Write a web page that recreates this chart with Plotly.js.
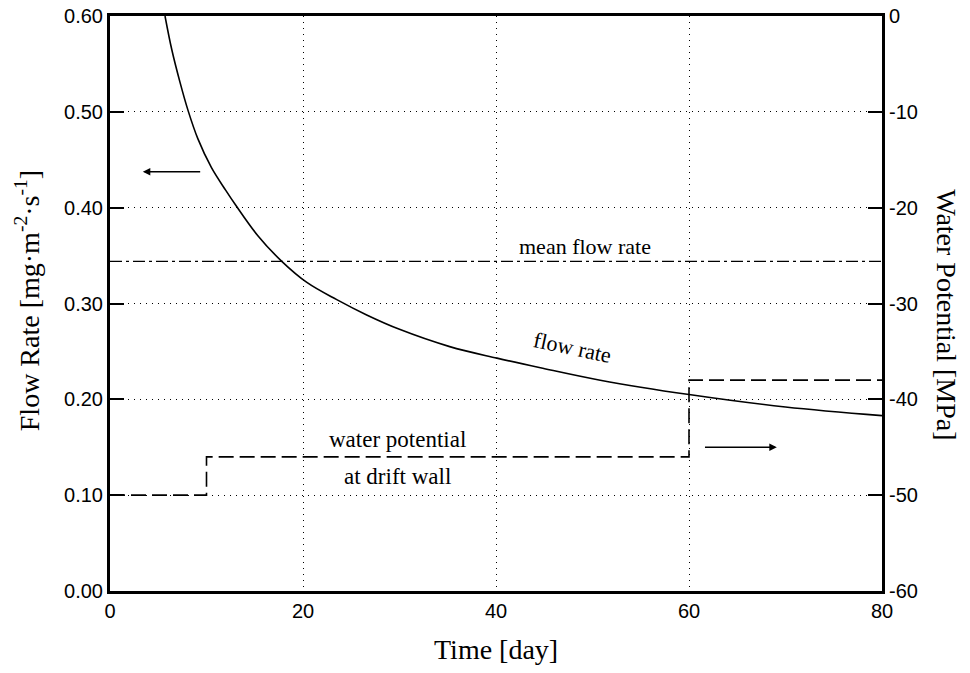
<!DOCTYPE html>
<html>
<head>
<meta charset="utf-8">
<script src="https://cdn.plot.ly/plotly-3.0.1.min.js"></script>
<style>html,body{margin:0;padding:0;background:#fff;}#chart{width:970px;height:673px;}</style>
</head>
<body>
<div id="chart"></div>
<script>
// Flow rate curve (day, mg·m^-2·s^-1)
const flowDays = [5.7, 6.4, 7.25, 8.1, 9.1, 10.5, 12.0, 13.0, 15.3, 17.8, 20.4, 23.5, 26.6, 30.0, 35.2, 40.1, 44.6, 50.8, 60, 70, 80];
const flowRate = [0.600, 0.565, 0.531, 0.501, 0.472, 0.442, 0.418, 0.403, 0.371, 0.344, 0.322, 0.304, 0.288, 0.273, 0.255, 0.243, 0.233, 0.220, 0.205, 0.192, 0.183];
// Mean flow rate
const meanDays = [0, 80];
const meanFlow = [0.344, 0.344];
// Water potential at drift wall (MPa), step function
const wpDays = [0, 10, 60, 80];
const wpValues = [-50, -46, -38, -38];
// Tick values
const flowTicks = [0, 0.1, 0.2, 0.3, 0.4, 0.5, 0.6];
const wpTicks = [-60, -50, -40, -30, -20, -10, 0];
const dayTicks = [0, 20, 40, 60, 80];

const traces = [
  {x: flowDays, y: flowRate, mode: 'lines', line: {color: '#000', width: 1.6, shape: 'spline', smoothing: 1}, xaxis: 'x', yaxis: 'y', hoverinfo: 'skip'},
  {x: meanDays, y: meanFlow, mode: 'lines', line: {color: '#000', width: 1.4, dash: '12px,4px,3px,4px'}, xaxis: 'x', yaxis: 'y', hoverinfo: 'skip'},
  {x: wpDays, y: wpValues, mode: 'lines', line: {color: '#000', width: 1.6, dash: '15px,6px', shape: 'hv'}, xaxis: 'x', yaxis: 'y2', hoverinfo: 'skip'}
];

const tickFont = {family: 'Liberation Sans, Arial, sans-serif', size: 20, color: '#000'};
const serif = 'Liberation Serif, Times New Roman, serif';

const layout = {
  width: 970, height: 673,
  margin: {l: 110, r: 88, t: 16, b: 82},
  paper_bgcolor: '#fff', plot_bgcolor: '#fff',
  showlegend: false,
  xaxis: {
    range: [0, 80], tickvals: dayTicks, ticktext: dayTicks.map(String),
    showline: true, linewidth: 3, linecolor: '#000', mirror: true,
    showgrid: true, gridcolor: '#000', gridwidth: 1, griddash: '1px,5px',
    zeroline: false, ticks: '', tickfont: tickFont
  },
  yaxis: {
    range: [0, 0.6], tickvals: flowTicks, ticktext: flowTicks.map(v => v.toFixed(2)),
    showline: true, linewidth: 3, linecolor: '#000', mirror: true,
    showgrid: true, gridcolor: '#000', gridwidth: 1, griddash: '1px,5px',
    zeroline: false, ticks: 'inside', ticklen: 14, tickwidth: 2, tickcolor: '#000',
    tickfont: tickFont
  },
  yaxis2: {
    range: [-60, 0], tickvals: wpTicks, ticktext: wpTicks.map(String),
    overlaying: 'y', side: 'right', anchor: 'x',
    showline: true, linewidth: 3, linecolor: '#000',
    showgrid: false, zeroline: false,
    ticks: 'inside', ticklen: 14, tickwidth: 2, tickcolor: '#000',
    tickfont: tickFont
  },
  annotations: [
    {xref: 'paper', yref: 'paper', x: 0.5, y: -0.1026, xanchor: 'center', yanchor: 'middle', showarrow: false,
     text: 'Time [day]', font: {family: serif, size: 28, color: '#000'}},
    {xref: 'paper', yref: 'paper', x: -0.1075, y: 0.504, xanchor: 'center', yanchor: 'middle', textangle: -90, showarrow: false,
     text: 'Flow Rate [mg·m<sup>-2</sup>·s<sup>-1</sup>]', font: {family: serif, size: 28, color: '#000'}},
    {xref: 'paper', yref: 'paper', x: 1.0839, y: 0.48, xanchor: 'center', yanchor: 'middle', textangle: 90, showarrow: false,
     text: 'Water Potential [MPa]', font: {family: serif, size: 28, color: '#000'}},
    {xref: 'x', yref: 'y', x: 49.2, y: 0.359, showarrow: false,
     text: 'mean flow rate', font: {family: serif, size: 22, color: '#000'}},
    {xref: 'x', yref: 'y', x: 47.9, y: 0.254, showarrow: false, textangle: 12,
     text: 'flow rate', font: {family: serif, size: 22, color: '#000'}},
    {xref: 'x', yref: 'y', x: 29.8, y: 0.158, showarrow: false,
     text: 'water potential', font: {family: serif, size: 23, color: '#000'}},
    {xref: 'x', yref: 'y', x: 29.8, y: 0.119, showarrow: false,
     text: 'at drift wall', font: {family: serif, size: 23, color: '#000'}},
    {xref: 'x', yref: 'y', axref: 'x', ayref: 'y', x: 3.4, y: 0.4376, ax: 9.5, ay: 0.4376,
     text: '', showarrow: true, arrowhead: 2, arrowsize: 1, arrowwidth: 1.5, arrowcolor: '#000'},
    {xref: 'x', yref: 'y', axref: 'x', ayref: 'y', x: 69.1, y: 0.150, ax: 61.5, ay: 0.150,
     text: '', showarrow: true, arrowhead: 2, arrowsize: 1, arrowwidth: 1.5, arrowcolor: '#000'}
  ]
};

Plotly.newPlot('chart', traces, layout, {displayModeBar: false, staticPlot: true});
</script>
</body>
</html>
